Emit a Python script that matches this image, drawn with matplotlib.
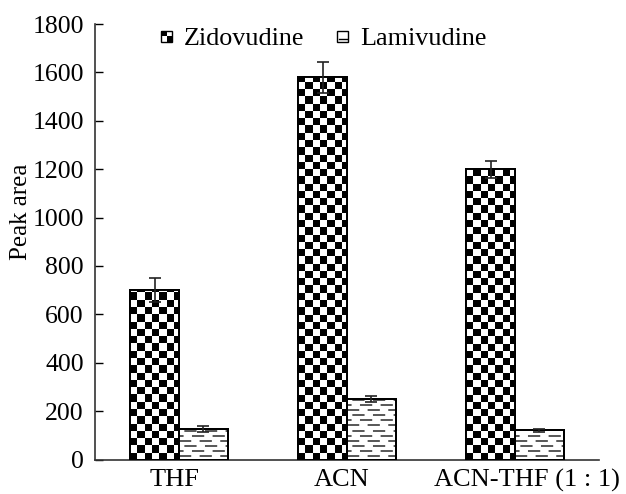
import numpy as np
import matplotlib
matplotlib.use("Agg")
import matplotlib.pyplot as plt
import matplotlib.transforms as mtransforms
from matplotlib.patches import Rectangle
from matplotlib.legend_handler import HandlerBase
from matplotlib.lines import Line2D

# Data
solvents = ["THF", "ACN", "ACN-THF (1 : 1)"]
zidovudine = [700, 1580, 1200]
zidovudine_err = [50, 65, 35]
lamivudine = [125, 250, 120]
lamivudine_err = [12, 12, 8]
y_ticks = [0, 200, 400, 600, 800, 1000, 1200, 1400, 1600, 1800]

plt.rcParams["font.family"] = ["Liberation Serif", "DejaVu Serif"]
FS_X = 19.0
FS_NUM = 18.5
FS_YLAB = 18.0
FS_LEG = 18.8

fig = plt.figure(figsize=(6.26, 4.94), dpi=100)
ax = fig.add_axes([0.1518, 0.0698, 0.9569 - 0.1518, 0.9514 - 0.0698])

x = np.arange(len(solvents))
w = 0.29
ax.set_xlim(-0.5, 2.5)
ax.set_ylim(0, 1800)

zbars = ax.bar(x - w / 2, zidovudine, w, facecolor="white", edgecolor="black",
               linewidth=1.4, zorder=2)
lbars = ax.bar(x + w / 2, lamivudine, w, facecolor="white", edgecolor="black",
               linewidth=1.4, zorder=2)

# Checkerboard fill for the zidovudine bars
cell_x = w / 6.7
cell_y = 30.0
for b in zbars:
    x0, y0 = b.get_x(), b.get_y()
    bw, bh = b.get_width(), b.get_height()
    nc = int(np.ceil(bw / cell_x))
    nr = int(np.ceil(bh / cell_y))
    ii, jj = np.indices((nr, nc))
    board = ((ii + jj) % 2).astype(float)
    im = ax.imshow(board, cmap="gray", vmin=0, vmax=1, interpolation="nearest",
                   origin="lower", aspect="auto",
                   extent=(x0, x0 + nc * cell_x, y0, y0 + nr * cell_y), zorder=2.5)
    im.set_clip_path(b)
    edge = Rectangle((x0, y0), bw, bh, facecolor="none", edgecolor="black",
                     linewidth=1.4, zorder=3)
    ax.add_patch(edge)

# Dashed horizontal fill for the lamivudine bars
row_gap = 21.0
for b in lbars:
    x0, y0 = b.get_x(), b.get_y()
    bw, bh = b.get_width(), b.get_height()
    for k, yy in enumerate(np.arange(y0 + row_gap * 0.7, y0 + bh - 4, row_gap)):
        off = (k % 3) * 5.0
        ln = Line2D([x0, x0 + bw], [yy, yy], color="#2a2a2a", linewidth=1.1,
                    linestyle=(off, (8.0, 5.5)), zorder=2.5)
        ax.add_line(ln)
        ln.set_clip_path(b)
    edge = Rectangle((x0, y0), bw, bh, facecolor="none", edgecolor="black",
                     linewidth=1.4, zorder=3)
    ax.add_patch(edge)

ax.errorbar(x - w / 2, zidovudine, yerr=zidovudine_err, fmt="none",
            ecolor="#222222", elinewidth=1.2, capsize=4.3, capthick=1.2, zorder=4)
ax.errorbar(x + w / 2, lamivudine, yerr=lamivudine_err, fmt="none",
            ecolor="#222222", elinewidth=1.2, capsize=4.3, capthick=1.2, zorder=4)

ax.set_xlim(-0.5, 2.5)
ax.set_ylim(0, 1800)
ax.set_yticks(y_ticks)
ax.set_yticklabels([str(v) for v in y_ticks], fontsize=FS_NUM)
ax.set_xticks(x)
ax.set_xticklabels(solvents, fontsize=FS_X)
ax.tick_params(axis="y", direction="in", length=6, width=1.0, pad=8)
ax.tick_params(axis="x", length=0, pad=7)

# nudge the category labels sideways (pixels)
label_shift_px = [-4, -5, 12]
for lab, dx in zip(ax.get_xticklabels(), label_shift_px):
    lab.set_transform(lab.get_transform() +
                      mtransforms.ScaledTranslation(dx / 100, 0, fig.dpi_scale_trans))

ax.spines["top"].set_visible(False)
ax.spines["right"].set_visible(False)
for s in ("left", "bottom"):
    ax.spines[s].set_linewidth(1.2)
    ax.spines[s].set_color("#333333")
ax.set_ylabel("Peak area", fontsize=FS_YLAB)
ax.yaxis.set_label_coords(-0.126, 0.568)


ICON = 8.0  # legend icon side, points


class CheckerHandler(HandlerBase):
    def create_artists(self, legend, orig_handle, xdescent, ydescent, width,
                       height, fontsize, trans):
        s = ICON
        x0 = -xdescent
        y0 = -ydescent + (height - s) / 2
        arts = [Rectangle((x0, y0), s, s, facecolor="white", edgecolor="black",
                          linewidth=1.0, transform=trans)]
        h = s / 2
        arts.append(Rectangle((x0, y0 + h), h, h, facecolor="black",
                              edgecolor="none", transform=trans))
        arts.append(Rectangle((x0 + h, y0), h, h, facecolor="black",
                              edgecolor="none", transform=trans))
        return arts


class DashHandler(HandlerBase):
    def create_artists(self, legend, orig_handle, xdescent, ydescent, width,
                       height, fontsize, trans):
        s = ICON
        x0 = -xdescent
        y0 = -ydescent + (height - s) / 2
        arts = [Rectangle((x0, y0), s, s, facecolor="white", edgecolor="black",
                          linewidth=1.0, transform=trans)]
        arts.append(Line2D([x0 + s * 0.15, x0 + s * 0.9], [y0 + s * 0.3, y0 + s * 0.3],
                           color="black", linewidth=1.0, transform=trans))
        return arts


h_z = Rectangle((0, 0), 1, 1)
h_l = Rectangle((0, 1), 1, 1)
leg = ax.legend([h_z, h_l], ["Zidovudine", "Lamivudine"], ncol=2, frameon=False,
                fontsize=FS_LEG, loc="center left", bbox_to_anchor=(0.131, 0.966),
                borderpad=0, borderaxespad=0,
                handler_map={h_z: CheckerHandler(), h_l: DashHandler()},
                handlelength=ICON / FS_LEG, handletextpad=0.45, columnspacing=1.25)

fig.savefig("out.png", dpi=100)
